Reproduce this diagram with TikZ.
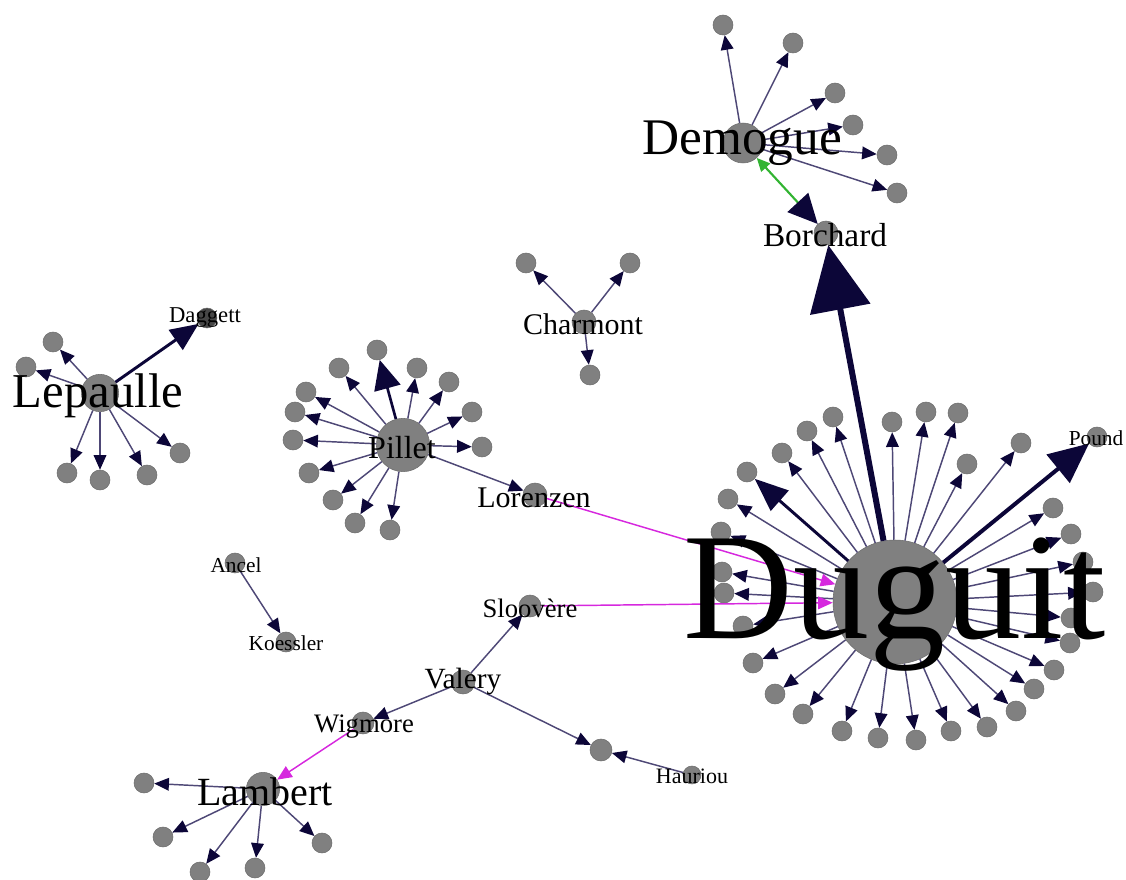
\documentclass[tikz,border=0pt]{standalone}
\usepackage{fontspec}
\setmainfont{Liberation Serif}
\usetikzlibrary{arrows.meta}
\definecolor{nodegray}{RGB}{128,128,128}
\definecolor{edgecol}{RGB}{78,72,118}
\definecolor{headcol}{RGB}{12,6,56}
\definecolor{pinkcol}{RGB}{214,40,222}
\definecolor{greencol}{RGB}{50,180,50}
\newcommand{\fsz}[1]{\fontsize{#1}{#1}\selectfont}

\begin{document}
\begin{tikzpicture}[
x=0.75pt, y=-0.75pt,
dot/.style={
  circle,
  fill=nodegray,
  draw=nodegray!85!black,
  line width=0.4pt,
  inner sep=0pt,
  minimum size=15pt
  },
hub/.style={dot, minimum size=#1},
lbl/.style={anchor=base, inner sep=0pt, text=black},
link/.style={
  draw=edgecol,
  line width=1.1pt,
  -{Triangle[length=11pt, width=9.5pt, color=headcol]}
  },
heavy/.style n args={3}{
  draw=headcol,
  line width=#1,
  -{Triangle[length=#2, width=#3, color=headcol]}
  },
pinklink/.style={
  draw=pinkcol,
  line width=1.1pt,
  -{Triangle[length=11pt, width=9.5pt, color=pinkcol]}
  }
]
\path[use as bounding box] (0,0) rectangle (1126,880);

% hubs
\node[hub=93pt] (dug) at (895,602) {};
\node[hub=30pt] (dem) at (743,143) {};
\node[hub=18pt] (bor) at (826,233) {};
\node[hub=40pt] (pil) at (403,445) {};
\node[hub=28pt] (lep) at (100,393) {};
\node[hub=25pt] (lam) at (263,789) {};
\node[hub=18pt] (cha) at (584,322) {};
\node[hub=18pt] (lor) at (535,495) {};
\node[hub=16.5pt] (slo) at (530,606) {};
\node[hub=18pt] (val) at (463,682) {};
\node[hub=16.5pt] (wig) at (363,723) {};
\node[hub=16.5pt] (mid) at (601,750) {};
\node[hub=13.5pt] (hau) at (692,775) {};
\node[dot] (anc) at (235,563) {};
\node[dot] (koe) at (286,642) {};
\node[dot] (pou) at (1097,437) {};
\node[dot, fill=nodegray!55!black] (dag) at (207,318) {};

% Duguit
\foreach \px/\py [count=\i] in {728/499, 721/532, 722/572, 724/593, 743/626,
  753/663, 775/694, 803/714, 842/731, 878/738, 916/740, 951/731, 987/727,
  1016/711, 1034/689, 1054/670, 1070/643, 1071/618, 1093/592, 1083/562,
  1071/534, 1053/508, 1021/443, 967/464, 958/413, 926/412, 892/422,
  833/417, 807/431, 782/453}
  {\node[dot] (dug-\i) at (\px,\py) {};
   \draw[link] (dug) -- (dug-\i);}
\node[dot] (dug-big) at (747,472) {};
\draw[heavy={2.2pt}{25pt}{20pt}] (dug) -- (dug-big);
\draw[heavy={3pt}{30pt}{27pt}] (dug) -- (pou);
\draw[heavy={4.5pt}{49pt}{45pt}] (dug) -- (bor);

% Demogue
\foreach \px/\py [count=\i] in {723/25, 793/43, 835/93, 853/125, 887/155, 897/193}
  {\node[dot] (dem-\i) at (\px,\py) {};
   \draw[link] (dem) -- (dem-\i);}
\draw[draw=greencol, line width=1.6pt,
  {Triangle[length=10pt, width=9pt, color=greencol]}-{Triangle[length=22pt, width=21pt, color=headcol]}]
  (dem) -- (bor);

% Pillet
\foreach \px/\py [count=\i] in {339/368, 417/368, 306/392, 449/382, 295/412,
  472/412, 293/440, 482/447, 309/473, 333/500, 355/523, 390/530}
  {\node[dot] (pil-\i) at (\px,\py) {};
   \draw[link] (pil) -- (pil-\i);}
\node[dot] (pil-big) at (377,350) {};
\draw[heavy={2pt}{22pt}{20pt}] (pil) -- (pil-big);
\draw[link] (pil) -- (lor);

% Charmont
\foreach \px/\py [count=\i] in {526/263, 630/263, 590/375}
  {\node[dot] (cha-\i) at (\px,\py) {};
   \draw[link] (cha) -- (cha-\i);}

% Lepaulle
\foreach \px/\py [count=\i] in {53/342, 26/367, 67/473, 100/480, 147/475, 180/453}
  {\node[dot] (lep-\i) at (\px,\py) {};
   \draw[link] (lep) -- (lep-\i);}
\draw[heavy={2.2pt}{21pt}{18pt}] (lep) -- (dag);

% Lambert
\foreach \px/\py [count=\i] in {144/783, 163/837, 200/872, 255/868, 322/843}
  {\node[dot] (lam-\i) at (\px,\py) {};
   \draw[link] (lam) -- (lam-\i);}

% small links
\draw[link] (anc) -- (koe);
\draw[link] (val) -- (slo);
\draw[link] (val) -- (wig);
\draw[link] (val) -- (mid);
\draw[link] (hau) -- (mid);
\draw[pinklink] (wig) -- (lam);
\draw[pinklink] (lor) -- (dug);
\draw[pinklink] (slo) -- (dug);

% labels
\node[lbl, font=\fsz{114}] (dug-lbl) at (895,638) {Duguit};
\node[lbl, font=\fsz{38.5}] (dem-lbl) at (742,155) {Demogue};
\node[lbl, font=\fsz{25}] (bor-lbl) at (825,247) {Borchard};
\node[lbl, font=\fsz{22.5}] (cha-lbl) at (583,334) {Charmont};
\node[lbl, font=\fsz{22.5}] (lor-lbl) at (534,507) {Lorenzen};
\node[lbl, font=\fsz{20}] (slo-lbl) at (530,617) {Sloovère};
\node[lbl, font=\fsz{24}] (pil-lbl) at (402,458) {Pillet};
\node[lbl, font=\fsz{36.5}] (lep-lbl) at (98,407) {Lepaulle};
\node[lbl, font=\fsz{17}] (dag-lbl) at (205,322) {Daggett};
\node[lbl, font=\fsz{30}] (lam-lbl) at (265,805) {Lambert};
\node[lbl, font=\fsz{20}] (wig-lbl) at (364,732) {Wigmore};
\node[lbl, font=\fsz{16}] (anc-lbl) at (236,572) {Ancel};
\node[lbl, font=\fsz{16}] (koe-lbl) at (286,650) {Koessler};
\node[lbl, font=\fsz{22}] (val-lbl) at (463,688) {Valery};
\node[lbl, font=\fsz{16.5}] (hau-lbl) at (692,783) {Hauriou};
\node[lbl, font=\fsz{16}] (pou-lbl) at (1096,445) {Pound};
\end{tikzpicture}
\end{document}
